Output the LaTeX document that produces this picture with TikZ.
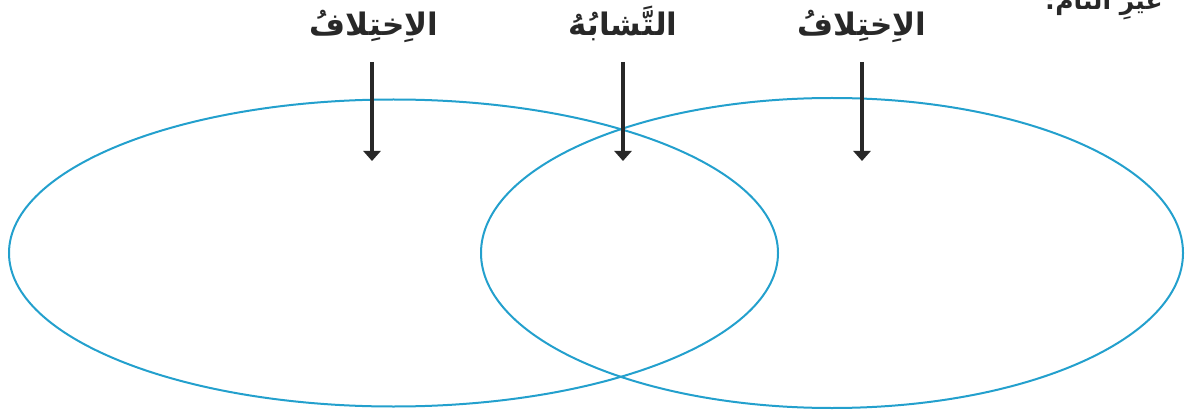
\documentclass[tikz,border=0pt]{standalone}
\usepackage{fontspec}
\usetikzlibrary{arrows.meta,shapes.geometric}
\newfontfamily\arabicfont[Script=Arabic]{DejaVu Sans}
\TeXXeTstate=1
\definecolor{vennblue}{RGB}{35,160,205}
\definecolor{arrgray}{RGB}{40,40,40}
\tikzset{
  venn/.style={ellipse, draw=vennblue, line width=2pt, inner sep=0pt},
  lab/.style={font=\arabicfont\bfseries\fontsize{31}{36}\selectfont, text=arrgray, inner sep=0pt, anchor=base},
  toplab/.style={font=\arabicfont\bfseries\fontsize{25}{30}\selectfont, text=arrgray, inner sep=0pt, anchor=base},
  arr/.style={draw=arrgray, line width=3.2pt, -{Triangle[width=17pt,length=10pt]}}
}
\begin{document}
\begin{tikzpicture}[x=1pt,y=-1pt]
\useasboundingbox (0,0) rectangle (1196,414);
\clip (0,0) rectangle (1196,414);
\node[venn, minimum width=769pt, minimum height=307pt] (L) at (393.5,253) {};
\node[venn, minimum width=702pt, minimum height=310pt] (R) at (832,253) {};
\node[lab] (l1) at (374,36) {\beginR الاِختِلافُ\endR};
\node[lab] (l2) at (623,36) {\beginR التَّشابُهُ\endR};
\node[lab] (l3) at (862,36) {\beginR الاِختِلافُ\endR};
\node[toplab] (l4) at (1104,10) {\beginR غيرِ التّامِّ؛\endR};
\coordinate (s1) at (372,62); \coordinate (t1) at (372,161);
\coordinate (s2) at (623,62); \coordinate (t2) at (623,161);
\coordinate (s3) at (862,62); \coordinate (t3) at (862,161);
\draw[arr] (s1) -- (t1);
\draw[arr] (s2) -- (t2);
\draw[arr] (s3) -- (t3);
\end{tikzpicture}
\end{document}
